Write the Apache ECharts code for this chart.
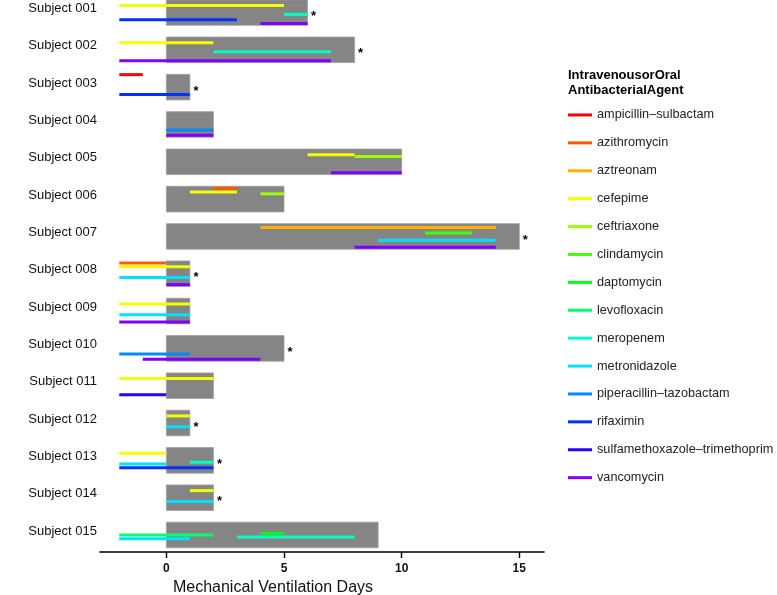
<!DOCTYPE html>
<html><head><meta charset="utf-8">
<script src="https://cdn.jsdelivr.net/npm/echarts@6/dist/echarts.min.js"></script>
<style>html,body{margin:0;padding:0;background:#fff}#c{width:777px;height:595px}</style>
</head><body><div id="c"></div>
<script>
const FONT = '"Liberation Sans", Arial, Helvetica, sans-serif';
const subjects = ['Subject 001','Subject 002','Subject 003','Subject 004','Subject 005','Subject 006','Subject 007','Subject 008','Subject 009','Subject 010','Subject 011','Subject 012','Subject 013','Subject 014','Subject 015'];
const ventilationDays = [6, 8, 1, 2, 10, 5, 15, 1, 1, 5, 2, 1, 2, 2, 9];
const flagged = [1, 1, 1, 0, 0, 0, 1, 1, 0, 1, 0, 1, 1, 1, 0];
const agentNames = ['ampicillin–sulbactam','azithromycin','aztreonam','cefepime','ceftriaxone','clindamycin','daptomycin','levofloxacin','meropenem','metronidazole','piperacillin–tazobactam','rifaximin','sulfamethoxazole–trimethoprim','vancomycin'];
const agentColors = ['#FF0000','#FF5800','#FFB100','#F5FF00','#9DFF00','#45FF00','#00FF14','#00FF6C','#00FFC4','#00E2FF','#0089FF','#0031FF','#2700FF','#8000FF'];
// courses: [subject number, start day, end day]
const ampicillinSulbactam = [[3,-2,-1]];
const azithromycin = [[6,2,3],[8,-2,0]];
const aztreonam = [[7,4,14]];
const cefepime = [[1,-2,5],[2,-2,2],[5,6,8],[6,1,3],[8,-2,1],[9,-2,1],[11,-2,2],[12,0,1],[13,-2,0],[14,1,2]];
const ceftriaxone = [[5,8,10],[6,4,5]];
const clindamycin = [[7,11,13]];
const daptomycin = [[15,4,5]];
const levofloxacin = [[15,-2,2]];
const meropenem = [[1,5,6],[2,2,7],[13,1,2],[15,3,8]];
const metronidazole = [[7,9,14],[8,-2,1],[9,-2,1],[12,0,1],[13,-2,0],[14,0,2],[15,-2,1]];
const piperacillinTazobactam = [[4,0,2],[10,-2,1]];
const rifaximin = [[1,-2,3],[3,-2,1],[13,-2,2]];
const sulfamethoxazoleTrimethoprim = [[11,-2,0]];
const vancomycin = [[1,4,6],[2,-2,7],[4,0,2],[5,7,10],[7,8,14],[8,0,1],[9,-2,1],[10,-1,4]];
const courses = [ampicillinSulbactam, azithromycin, aztreonam, cefepime, ceftriaxone, clindamycin, daptomycin, levofloxacin, meropenem, metronidazole, piperacillinTazobactam, rifaximin, sulfamethoxazoleTrimethoprim, vancomycin];
const xTicks = [0, 5, 10, 15];

const chart = echarts.init(document.getElementById('c'), null, {renderer: 'canvas'});

const barSeries = {
  type: 'custom',
  name: 'ventilation',
  z: 1,
  encode: {x: [0, 1], y: 2},
  data: ventilationDays.map((d, i) => [0, d, i, flagged[i]]),
  renderItem: function (params, api) {
    const a = api.coord([api.value(0), api.value(2)]);
    const b = api.coord([api.value(1), api.value(2)]);
    const children = [{
      type: 'rect',
      shape: {x: a[0], y: a[1] - 12.8, width: b[0] - a[0], height: 25.6},
      style: {fill: '#858585', stroke: '#a0a0a0', lineWidth: 0.8}
    }];
    if (api.value(3)) {
      children.push({
        type: 'text',
        style: {x: b[0] + 3.5, y: b[1] + 4, text: '*', fill: '#000', font: 'bold 13px ' + FONT, verticalAlign: 'middle', align: 'left'}
      });
    }
    return {type: 'group', children: children};
  }
};

const segSeries = courses.map((list, k) => ({
  type: 'custom',
  name: agentNames[k],
  z: 2,
  itemStyle: {color: agentColors[k]},
  encode: {x: [0, 1], y: 2},
  data: list.map(c => [c[1], c[2], c[0] - 1]),
  renderItem: function (params, api) {
    const a = api.coord([api.value(0), api.value(2)]);
    const b = api.coord([api.value(1), api.value(2)]);
    const dy = 1.8 * k - 12.5;
    return {type: 'line', shape: {x1: a[0], y1: a[1] + dy, x2: b[0], y2: b[1] + dy},
      style: {stroke: agentColors[k], lineWidth: 3, lineCap: 'butt'}};
  }
}));

chart.setOption({
  backgroundColor: '#ffffff',
  animation: false,
  textStyle: {fontFamily: FONT},
  title: {
    text: 'IntravenousorOral\nAntibacterialAgent',
    left: 568, top: 68.5, padding: 0,
    textStyle: {fontFamily: FONT, fontSize: 13, fontWeight: 'bold', color: '#000', lineHeight: 14.3}
  },
  legend: {
    orient: 'vertical', left: 568, top: 101, padding: 0,
    itemWidth: 24, itemHeight: 3, itemGap: 0, icon: 'rect',
    selectedMode: false,
    textStyle: {fontFamily: FONT, fontSize: 12.7, color: '#222', lineHeight: 27.9},
    data: agentNames
  },
  grid: {left: 100, right: 233, top: 12.5, bottom: 60, containLabel: false, outerBoundsMode: 'none'},
  xAxis: {
    type: 'value', min: -2.82, max: 16.05,
    offset: 17,
    axisLine: {show: true, lineStyle: {color: '#000', width: 1.6}},
    axisTick: {show: true, length: 6, lineStyle: {color: '#000', width: 1.4}, customValues: xTicks},
    axisLabel: {customValues: xTicks, fontSize: 12, fontWeight: 'bold', color: '#111', margin: 11, fontFamily: FONT},
    splitLine: {show: false},
    name: 'Mechanical Ventilation Days',
    nameLocation: 'middle', nameGap: 26,
    nameTextStyle: {fontSize: 16, color: '#111', fontFamily: FONT, padding: [0, 98, 0, 0]}
  },
  yAxis: {
    type: 'category', data: subjects, inverse: true, boundaryGap: false,
    axisLine: {show: false}, axisTick: {show: false}, splitLine: {show: false},
    axisLabel: {fontSize: 13, color: '#111', margin: 3, verticalAlign: 'bottom', lineHeight: 8, interval: 0, fontFamily: FONT}
  },
  series: [barSeries].concat(segSeries)
});
</script>
</body></html>
